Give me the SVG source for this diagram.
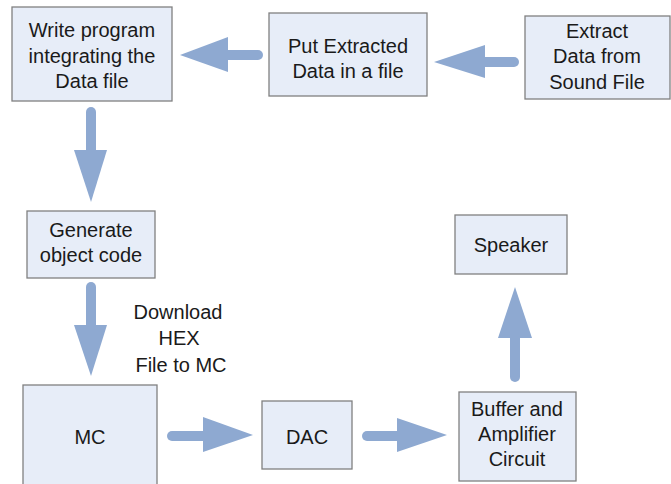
<svg xmlns="http://www.w3.org/2000/svg" width="671" height="484" viewBox="0 0 671 484">
<style>
.box{fill:#e7edf8;stroke:#808080;stroke-width:1.3}
.t{font-family:"Liberation Sans",Arial,sans-serif;font-size:20px;fill:#1a1a1a;text-anchor:middle}
.sh{stroke:#8ea9d1;stroke-width:10;stroke-linecap:round;fill:none}
.hd{fill:#8ea9d1}
</style>
<rect width="671" height="484" fill="#ffffff"/>
<g id="connectors">
<line class="sh" x1="258" y1="55" x2="226" y2="55"/>
<polygon class="hd" points="228,37 228,72 180,55"/>
<line class="sh" x1="514" y1="62" x2="483" y2="62"/>
<polygon class="hd" points="485,45 485,78 434,62"/>
<line class="sh" x1="91" y1="112" x2="91" y2="152"/>
<polygon class="hd" points="74,150 107,150 91,202"/>
<line class="sh" x1="91" y1="287" x2="91" y2="327"/>
<polygon class="hd" points="74,325 107,325 91,376"/>
<line class="sh" x1="172" y1="436" x2="205" y2="436"/>
<polygon class="hd" points="203,417 203,452 253,435"/>
<line class="sh" x1="367" y1="436" x2="399" y2="436"/>
<polygon class="hd" points="397,418 397,452 447,435"/>
<line class="sh" x1="515" y1="377" x2="515" y2="336"/>
<polygon class="hd" points="498,338 532,338 515,287"/>
</g>
<g id="write-program">
<rect class="box" x="12" y="7" width="160" height="94"/>
<text class="t" x="92" y="37">Write program</text>
<text class="t" x="92" y="63">integrating the</text>
<text class="t" x="92" y="88">Data file</text>
</g>
<g id="put-extracted">
<rect class="box" x="269" y="13" width="158" height="83"/>
<text class="t" x="348" y="53">Put Extracted</text>
<text class="t" x="348" y="78">Data in a file</text>
</g>
<g id="extract-data">
<rect class="box" x="525" y="16" width="145" height="83"/>
<text class="t" x="597" y="38">Extract</text>
<text class="t" x="597" y="63">Data from</text>
<text class="t" x="597" y="89">Sound File</text>
</g>
<g id="generate">
<rect class="box" x="27" y="211" width="128" height="67"/>
<text class="t" x="91" y="237">Generate</text>
<text class="t" x="91" y="262">object code</text>
</g>
<g id="download-label">
<text class="t" x="178" y="319">Download</text>
<text class="t" x="179" y="345">HEX</text>
<text class="t" x="181" y="372">File to MC</text>
</g>
<g id="mc">
<rect class="box" x="23" y="385" width="134" height="102"/>
<text class="t" x="90" y="444">MC</text>
</g>
<g id="dac">
<rect class="box" x="262" y="401" width="90" height="68"/>
<text class="t" x="307" y="444">DAC</text>
</g>
<g id="buffer">
<rect class="box" x="459" y="392" width="117" height="89"/>
<text class="t" x="517" y="416">Buffer and</text>
<text class="t" x="517" y="441">Amplifier</text>
<text class="t" x="517" y="466">Circuit</text>
</g>
<g id="speaker">
<rect class="box" x="455" y="215" width="112" height="59"/>
<text class="t" x="511" y="252">Speaker</text>
</g>
</svg>
